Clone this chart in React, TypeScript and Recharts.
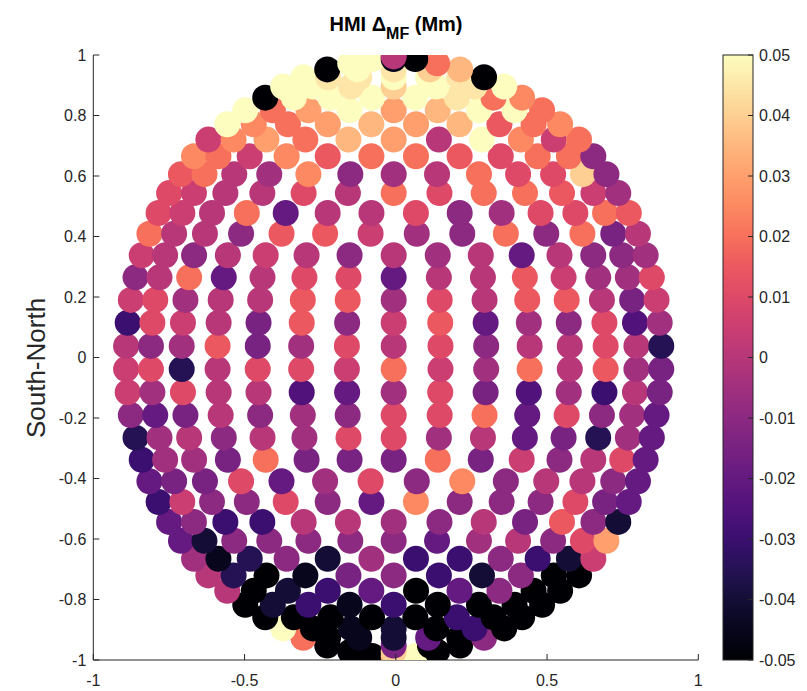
import React from 'react';
import { ScatterChart, Scatter, XAxis, YAxis } from 'recharts';

// latitude rows (deg) of the measurement grid, same for both hemispheres
const LAT_ROWS = [2.2, 6.6, 11.0, 15.4, 19.8, 24.2, 28.6, 33.0, 37.4, 41.8, 46.2, 50.6, 55.0, 59.4, 63.8, 68.2, 72.6, 77.0, 81.4, 85.8];
// number of points along each latitude row
const ROW_COUNTS = [15, 15, 15, 15, 15, 14, 14, 13, 13, 12, 11, 10, 9, 8, 7, 7, 5, 3, 3, 1];
// outermost longitude (deg) reached by each row
const ROW_LON_LIMIT = [62.5, 62.5, 62.5, 62.5, 62.5, 62.5, 62.5, 62.5, 62.5, 62.5, 62.5, 60.3, 59.0, 56.7, 56.0, 53.7, 47.4, 39.8, 28.5, 0];
const DISK_X0 = -0.007;
const DISK_Y0 = 0;
const DISK_R = 0.998;

// values per row, west -> east. A = -0.05 ... K = 0 ... U = 0.05 (steps of 0.005)
const NORTH_VALUES = [
    'KIJNHJMKMIKKMKD',
    'EMLKHNILNGJIMFJ',
    'LMJKKNNJMKNNKHL',
    'IKOGKMMGKKNLJJM',
    'LKIKLKIKJKGKIIJ',
    'OKKINNLJIOIOHK',
    'MLKOGKKMIJMMON',
    'MLKKMKOMOONLJ',
    'NOKJPIJKOMMSI',
    'POLPNOONMOOI',
    'LPQORQKUPLO',
    'UPOQRQRNOP',
    'UOQUQRUUO',
    'AUUUUTOP',
    'UUTSUTU',
    'UTTUUTA',
    'AUTSR',
    'UTO',
    'UBA',
    'K',
];
const SOUTH_VALUES = [
    'LMDKMMLOLJOKNJH',
    'LJMKKFGJMHFJEKH',
    'IGHKIJIMMOGMIJG',
    'DJKIKJMMJKGHDJG',
    'EJJHOHHHOHLIKMG',
    'GHHMGJMIPIKKIG',
    'ELIIMIGPIIIMHG',
    'GIEEKKJIKHNIC',
    'GCIIIIIGJKIMQ',
    'JBDICJEEIECL',
    'KDABHIECIAA',
    'KACEGAGIAA',
    'ACEBEAAAA',
    'AAAAAEAA',
    'UABCAEA',
    'OABCGAI',
    'AAHAA',
    'ASA',
    'ARU',
    'K',
];

const X_TICKS = [-1, -0.5, 0, 0.5, 1];
const Y_TICKS = [-1, -0.8, -0.6, -0.4, -0.2, 0, 0.2, 0.4, 0.6, 0.8, 1];
const CBAR_TICKS = [0.05, 0.04, 0.03, 0.02, 0.01, 0, -0.01, -0.02, -0.03, -0.04, -0.05];
const CLIM = [-0.05, 0.05];

// magma colormap stops
const MAGMA = [
    '#000004', '#07061c', '#140e36', '#251255', '#3b0f70', '#51127c', '#641a80',
    '#782281', '#8c2981', '#a1307e', '#b73779', '#cb3e72', '#de4968', '#ec5860',
    '#f7705c', '#fc8961', '#fe9f6d', '#feb77e', '#fecf92', '#fde6a8', '#fcfdbf',
];

const hexToRgb = (h: string) => [1, 3, 5].map(i => parseInt(h.slice(i, i + 2), 16));

const magma = (v: number) => {
    let t = (v - CLIM[0]) / (CLIM[1] - CLIM[0]);
    t = Math.max(0, Math.min(1, t));
    const pos = t * (MAGMA.length - 1);
    const i = Math.min(MAGMA.length - 2, Math.floor(pos));
    const f = pos - i;
    const a = hexToRgb(MAGMA[i]);
    const b = hexToRgb(MAGMA[i + 1]);
    const c = a.map((ai, k) => Math.round(ai + (b[k] - ai) * f));
    return `rgb(${c[0]},${c[1]},${c[2]})`;
};

const decode = (ch: string) => (ch ? CLIM[0] + 0.005 * (ch.charCodeAt(0) - 65) : 0);

const buildRow = (k: number, sign: number, codes: string) => {
    const lat = (LAT_ROWS[k] * Math.PI) / 180;
    const n = ROW_COUNTS[k];
    const limit = ROW_LON_LIMIT[k];
    const row = [];
    for (let j = 0; j < n; j++) {
        const lonDeg = n > 1 ? -limit + (2 * limit * j) / (n - 1) : 0;
        const lon = (lonDeg * Math.PI) / 180;
        row.push({
            x: DISK_X0 + DISK_R * Math.cos(lat) * Math.sin(lon),
            y: DISK_Y0 + sign * DISK_R * Math.sin(lat),
            v: decode(codes[j] || 'K'),
        });
    }
    return row;
};

// south pole first, north pole last (later points drawn on top)
const points: { x: number; y: number; v: number }[] = [];
for (let k = LAT_ROWS.length - 1; k >= 0; k--) points.push(...buildRow(k, -1, SOUTH_VALUES[k]));
for (let k = 0; k < LAT_ROWS.length; k++) points.push(...buildRow(k, 1, NORTH_VALUES[k]));

const FONT = '"Liberation Sans", Arial, Helvetica, sans-serif';
const AXIS_COLOR = '#262626';

const renderDot = (props: any) => {
    const { cx, cy, payload } = props;
    return <circle cx={cx} cy={cy} r={13} fill={magma(payload.v)} stroke="none" />;
};

const YTick = (props: any) => {
    const { x, y, payload } = props;
    return (
        <g>
            <line x1={x} x2={x + 6} y1={y} y2={y} stroke={AXIS_COLOR} strokeWidth={1} />
            <text x={x - 7} y={y} dy="0.35em" textAnchor="end" fontSize={16} fontFamily={FONT} fill={AXIS_COLOR}>
                {payload.value}
            </text>
        </g>
    );
};

const XTick = (props: any) => {
    const { x, y, payload } = props;
    return (
        <g>
            <line x1={x} x2={x} y1={y} y2={y - 6} stroke={AXIS_COLOR} strokeWidth={1} />
            <text x={x} y={y + 26} textAnchor="middle" fontSize={16} fontFamily={FONT} fill={AXIS_COLOR}>
                {payload.value}
            </text>
        </g>
    );
};

const Colorbar = () => {
    const x0 = 723;
    const w = 30;
    const top = 55;
    const h = 605;
    const yOf = (v: number) => top + ((CLIM[1] - v) / (CLIM[1] - CLIM[0])) * h;
    return (
        <svg width={807} height={691} style={{ position: 'absolute', left: 0, top: 0, pointerEvents: 'none' }}>
            <defs>
                <linearGradient id="magmaGrad" x1="0" y1="1" x2="0" y2="0">
                    {MAGMA.map((c, i) => (
                        <stop key={i} offset={i / (MAGMA.length - 1)} stopColor={c} />
                    ))}
                </linearGradient>
            </defs>
            <rect x={x0} y={top} width={w} height={h} fill="url(#magmaGrad)" stroke={AXIS_COLOR} strokeWidth={1} />
            {CBAR_TICKS.map(t => (
                <g key={t}>
                    <line x1={x0 + w - 5} x2={x0 + w} y1={yOf(t)} y2={yOf(t)} stroke={AXIS_COLOR} strokeWidth={1} />
                    <text x={x0 + w + 6} y={yOf(t)} dy="0.35em" fontSize={16} fontFamily={FONT} fill={AXIS_COLOR}>
                        {t}
                    </text>
                </g>
            ))}
            <text x={396} y={31} textAnchor="middle" fontSize={20} fontWeight="bold" fontFamily={FONT} fill="#000">
                HMI Δ<tspan fontSize={16} dy={8}>MF</tspan>
                <tspan dy={-8}> (Mm)</tspan>
            </text>
            <text
                x={0}
                y={0}
                transform="translate(45, 368) rotate(-90)"
                textAnchor="middle"
                fontSize={26}
                fontFamily={FONT}
                fill={AXIS_COLOR}
            >
                South-North
            </text>
        </svg>
    );
};

export default function App() {
    return (
        <div style={{ position: 'absolute', left: 0, top: 0, width: 807, height: 691, background: '#fff' }}>
            <ScatterChart width={807} height={691} margin={{ top: 55, right: 108.7, bottom: 6, left: 33.3 }}>
                <XAxis
                    type="number"
                    dataKey="x"
                    domain={[-1, 1]}
                    ticks={X_TICKS}
                    height={25}
                    tickSize={0}
                    tickMargin={0}
                    tick={<XTick />}
                    stroke={AXIS_COLOR}
                    allowDataOverflow
                />
                <YAxis
                    type="number"
                    dataKey="y"
                    domain={[-1, 1]}
                    ticks={Y_TICKS}
                    width={60}
                    tickSize={0}
                    tickMargin={0}
                    tick={<YTick />}
                    stroke={AXIS_COLOR}
                    allowDataOverflow
                />
                <Scatter data={points} shape={renderDot} isAnimationActive={false} />
            </ScatterChart>
            <Colorbar />
        </div>
    );
}
